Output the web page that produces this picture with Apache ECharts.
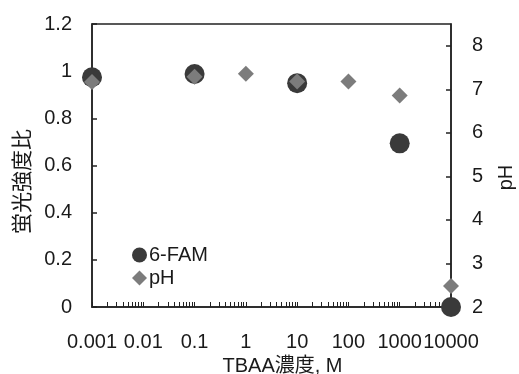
<!DOCTYPE html>
<html>
<head>
<meta charset="utf-8">
<script src="https://cdn.jsdelivr.net/npm/echarts@6/dist/echarts.min.js"></script>
<style>html,body{margin:0;padding:0;background:#fff}#c{width:519px;height:374px}</style>
</head>
<body>
<div id="c"></div>
<script>
// Data
var concentrations = [0.001, 0.1, 1, 10, 100, 1000, 10000];
var famValues = [0.974, 0.988, null, 0.949, null, 0.694, 0.0];
var phValues = [7.17, 7.29, 7.36, 7.18, 7.18, 6.86, 2.48];
var xTickValues = [0.001, 0.01, 0.1, 1, 10, 100, 1000, 10000];
var xTickLabels = ['0.001', '0.01', '0.1', '1', '10', '100', '1000', '10000'];
var leftTickLabels = ['0', '0.2', '0.4', '0.6', '0.8', '1', '1.2'];
var rightTickLabels = ['2', '3', '4', '5', '6', '7', '8'];

var minorTicks = [];
for (var d = -3; d < 4; d++) {
  for (var m = 1; m <= 9; m++) minorTicks.push(parseFloat((m * Math.pow(10, d)).toPrecision(6)));
}
minorTicks.push(10000);

var famData = [], phData = [];
concentrations.forEach(function (c, i) {
  if (famValues[i] !== null) famData.push([c, famValues[i]]);
  phData.push([c, phValues[i]]);
});

var FONT = '"Liberation Sans", Arial, "Noto Sans CJK JP", sans-serif';
var axisCol = '#222';
var txtCol = '#1a1a1a';
var chart = echarts.init(document.getElementById('c'), null, {renderer: 'canvas'});
chart.setOption({
  animation: false,
  textStyle: {fontFamily: FONT},
  grid: {left: 92, right: 68, top: 24, bottom: 67, containLabel: false, outerBoundsMode: 'none',
    show: true, borderColor: axisCol, borderWidth: 1.5, backgroundColor: 'transparent'},
  legend: {
    orient: 'vertical', left: 127, top: 240, itemWidth: 15, itemHeight: 15, itemGap: 3,
    textStyle: {fontSize: 20, color: txtCol, fontFamily: FONT, padding: [0, 0, 0, -3]},
    data: [{name: '6-FAM', icon: 'circle'}, {name: 'pH', icon: 'diamond'}]
  },
  xAxis: {
    type: 'log', logBase: 10, min: 0.001, max: 10000,
    name: 'TBAA濃度, M', nameLocation: 'middle', nameGap: 41,
    nameTextStyle: {fontSize: 20, color: txtCol, fontFamily: FONT, padding: [0, 0, 0, 22]},
    axisLine: {lineStyle: {color: axisCol, width: 1.5}},
    axisTick: {inside: true, length: 5, customValues: minorTicks, lineStyle: {color: axisCol, width: 1}},
    axisLabel: {fontSize: 20, color: txtCol, margin: 25, customValues: xTickValues,
      formatter: function (v) { var i = xTickValues.findIndex(function (t) { return Math.abs(Math.log10(t) - Math.log10(v)) < 1e-6; }); return i >= 0 ? xTickLabels[i] : ''; }},
    splitLine: {show: false}
  },
  yAxis: [{
    type: 'value', min: 0, max: 1.2, interval: 0.2, position: 'left',
    name: '蛍光強度比', nameLocation: 'middle', nameGap: 57, nameRotate: 90,
    nameTextStyle: {fontSize: 21, color: txtCol, fontFamily: FONT, padding: [0, 32, 0, 0]},
    axisLine: {show: true, lineStyle: {color: axisCol, width: 1.5}},
    axisTick: {show: true, inside: true, length: 5, lineStyle: {color: axisCol, width: 1.5}},
    axisLabel: {fontSize: 20, color: txtCol, margin: 20, formatter: function (v) { return leftTickLabels[Math.round(v / 0.2)]; }},
    splitLine: {show: false}
  }, {
    type: 'value', min: 2, max: 8.5, interval: 1, position: 'right',
    name: 'pH', nameLocation: 'middle', nameGap: 45, nameRotate: 90,
    nameTextStyle: {fontSize: 20, color: txtCol, fontFamily: FONT, padding: [0, 24, 0, 0]},
    axisLine: {show: true, lineStyle: {color: axisCol, width: 1.5}},
    axisTick: {show: true, inside: true, length: 5, lineStyle: {color: axisCol, width: 1.5}},
    axisLabel: {fontSize: 20, color: txtCol, margin: 21, showMaxLabel: false, formatter: function (v) { var i = Math.round(v - 2); return (Math.abs(v - Math.round(v)) < 1e-6 && rightTickLabels[i]) ? rightTickLabels[i] : ''; }},
    splitLine: {show: false}
  }],
  series: [{
    name: '6-FAM', type: 'scatter', yAxisIndex: 0, symbol: 'circle', symbolSize: 20, clip: false,
    itemStyle: {color: '#3a3a3a', opacity: 1}, data: famData
  }, {
    name: 'pH', type: 'scatter', yAxisIndex: 1, symbol: 'diamond', symbolSize: 16, clip: false,
    itemStyle: {color: '#7c7c7c', opacity: 1}, data: phData
  }]
});
</script>
</body>
</html>
